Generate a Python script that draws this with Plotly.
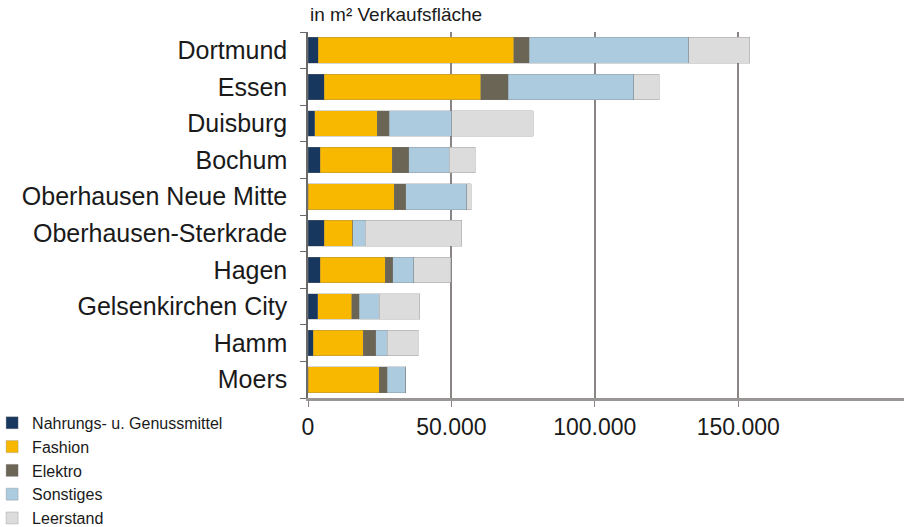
import plotly.graph_objects as go

categories = ["Dortmund", "Essen", "Duisburg", "Bochum", "Oberhausen Neue Mitte",
              "Oberhausen-Sterkrade", "Hagen", "Gelsenkirchen City", "Hamm", "Moers"]
nahrung = [3600, 5700, 2400, 4200, 0, 5700, 4200, 3400, 1900, 0]
fashion = [68100, 54600, 21800, 25200, 30100, 9900, 22700, 11800, 17400, 24800]
elektro = [5500, 9600, 4100, 5800, 4000, 0, 2700, 2600, 4300, 2900]
sonstiges = [55500, 43600, 21800, 14000, 21300, 4300, 7200, 7000, 4100, 6400]
leerstand = [21300, 9000, 28500, 9100, 1500, 33700, 13000, 14100, 10800, 0]

series = [
    ("Nahrungs- u. Genussmittel", nahrung, "#17375e"),
    ("Fashion", fashion, "#f8b800"),
    ("Elektro", elektro, "#6b6556"),
    ("Sonstiges", sonstiges, "#adcbdf"),
    ("Leerstand", leerstand, "#dcdcdc"),
]
tick_vals = [0, 50000, 100000, 150000]
tick_text = ["0", "50.000", "100.000", "150.000"]

FONT = "Liberation Sans, Arial, sans-serif"

fig = go.Figure()
for name, vals, col in series:
    fig.add_trace(go.Bar(
        y=categories, x=vals, name=name, orientation="h",
        marker=dict(color=col, line=dict(color="rgba(120,120,120,0.5)", width=0.6)),
    ))

fig.update_layout(
    barmode="stack",
    bargap=0.3,
    width=904, height=527,
    margin=dict(l=308, r=0, t=32, b=129, autoexpand=False),
    plot_bgcolor="white", paper_bgcolor="white",
    font=dict(family=FONT, color="#1a1a1a"),
    showlegend=True,
    legend=dict(
        x=-0.53, y=-0.374, xanchor="left", yanchor="bottom",
        font=dict(size=16, family=FONT, color="#1a1a1a"),
        traceorder="normal", tracegroupgap=0, itemwidth=30,
        bgcolor="rgba(0,0,0,0)", borderwidth=0,
    ),
    xaxis=dict(
        range=[0, 207800], tickvals=tick_vals, ticktext=tick_text,
        showgrid=True, gridcolor="#8a8484", gridwidth=2,
        zeroline=False, showline=True, linecolor="#9a9696", linewidth=3,
        ticks="outside", ticklen=6, tickcolor="#8a8484",
        ticklabelstandoff=0,
        tickfont=dict(size=23, family=FONT, color="#1a1a1a"),
        automargin=False, fixedrange=True,
    ),
    yaxis=dict(
        categoryorder="array", categoryarray=categories[::-1],
        showline=True, linecolor="#6a6a6a", linewidth=1.5,
        ticks="outside", ticklen=6, tickcolor="#6a6a6a", tickson="boundaries",
        ticklabelstandoff=14,
        tickfont=dict(size=25, family=FONT, color="#1a1a1a"),
        showgrid=False, automargin=False, fixedrange=True,
    ),
    annotations=[dict(
        text="in m² Verkaufsfläche", xref="paper", yref="paper",
        x=0, y=1.049, xanchor="left", yanchor="middle", showarrow=False,
        font=dict(size=19, family=FONT, color="#1a1a1a"),
    )],
)

fig.write_html("out.html", config={"displayModeBar": False},
               post_script="document.body.style.margin='0px';")
